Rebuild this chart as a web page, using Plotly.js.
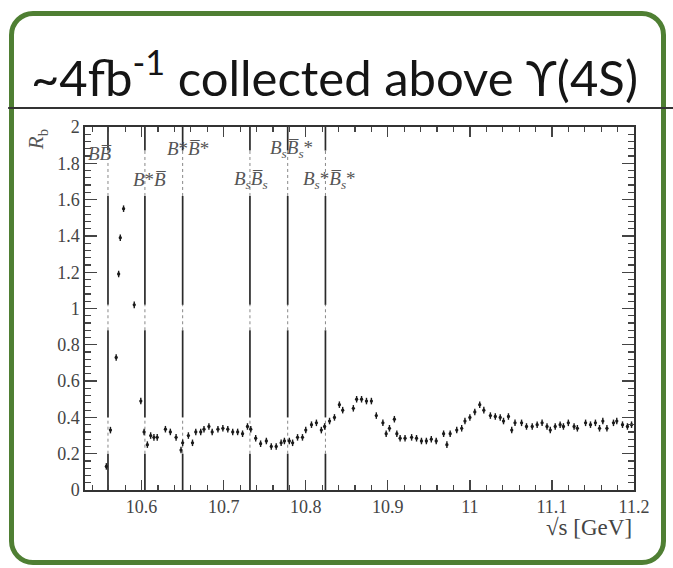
<!DOCTYPE html>
<html>
<head>
<meta charset="utf-8">
<script src="https://cdn.plot.ly/plotly-3.0.1.min.js"></script>
<style>
html,body{margin:0;padding:0;background:#fff;}
#wrap{position:relative;width:673px;height:568px;overflow:hidden;}
#frame{position:absolute;left:9px;top:11px;width:647px;height:544px;border:5px solid #4f7f33;border-radius:24px;background:#fff;}
#chart{position:absolute;left:0;top:0;width:673px;height:568px;}
</style>
</head>
<body>
<div id="wrap"><div id="frame"></div><div id="chart"></div></div>
<script>
// Energy points (GeV) and Rb values
const energy = [10.557,10.562,10.569,10.572,10.574,10.578,10.591,10.599,
 10.603,10.607,10.611,10.615,10.619,10.629,10.635,10.642,10.648,10.650,10.657,10.662,10.666,10.672,10.676,10.682,10.686,10.693,10.699,10.705,10.711,10.717,10.723,10.729,10.733,10.739,10.745,
 10.752,10.758,10.764,10.770,10.774,10.780,10.784,10.790,10.796,10.800,10.807,10.813,10.819,10.823,10.829,10.835,10.841,10.845,10.858,10.862,10.868,10.874,10.880,10.886,10.894,10.898,10.902,10.908,10.911,10.915,10.921,10.929,10.935,10.941,10.947,10.953,10.959,10.968,10.972,
 10.976,10.984,10.990,10.994,11.000,11.006,11.012,11.017,11.025,11.031,11.037,11.041,11.047,11.051,11.055,11.063,11.069,11.076,11.082,11.088,11.094,11.098,11.104,11.110,11.114,11.120,11.127,11.131,11.141,11.147,11.153,11.158,11.162,11.167,11.175,11.179,11.186,11.192,11.197];
const rb = [0.13,0.33,0.73,1.19,1.39,1.55,1.02,0.49,
 0.32,0.25,0.30,0.29,0.29,0.335,0.32,0.29,0.22,0.26,0.30,0.26,0.32,0.32,0.335,0.35,0.32,0.335,0.34,0.335,0.32,0.32,0.31,0.35,0.335,0.285,0.255,
 0.27,0.24,0.24,0.26,0.27,0.27,0.26,0.29,0.29,0.33,0.36,0.37,0.33,0.35,0.38,0.40,0.47,0.44,0.45,0.50,0.50,0.49,0.49,0.41,0.37,0.31,0.34,0.39,0.31,0.285,0.285,0.29,0.285,0.27,0.27,0.28,0.27,0.31,0.25,
 0.31,0.33,0.34,0.38,0.40,0.43,0.47,0.44,0.41,0.405,0.40,0.38,0.405,0.33,0.37,0.37,0.35,0.35,0.36,0.37,0.35,0.33,0.35,0.36,0.35,0.37,0.35,0.34,0.37,0.36,0.37,0.34,0.38,0.34,0.37,0.38,0.36,0.35,0.36];

// Open-flavour thresholds (GeV) and their labels
const thresholds = [10.559,10.604,10.650,10.732,10.778,10.824];
const thresholdLabels = [
  "<i>B</i><i>B̅</i>",
  "<i>B</i>*<i>B̅</i>",
  "<i>B</i>*<i>B̅</i>*",
  "<i>B<sub>s</sub></i><i>B̅<sub>s</sub></i>",
  "<i>B<sub>s</sub></i><i>B̅<sub>s</sub></i>*",
  "<i>B<sub>s</sub></i>*<i>B̅<sub>s</sub></i>*"
];
const labelX = [10.549,10.609,10.656,10.733,10.783,10.829];
const labelY = [1.855,1.71,1.88,1.71,1.88,1.71];

const traces = [];
// threshold lines: solid pieces plus dotted pieces
const solidSegs = [[0,0.2],[0.4,0.88],[1.02,1.62],[1.87,2]];
const dotSegs = [[0.2,0.4],[0.88,1.02],[1.62,1.87]];
function segTrace(segs, dash, w, col){
  const xs=[], ys=[];
  thresholds.forEach(t=>{ segs.forEach(s=>{ xs.push(t,t,null); ys.push(s[0],s[1],null); }); });
  return {x:xs,y:ys,mode:'lines',type:'scatter',hoverinfo:'skip',
    line:{color:col,width:w,dash:dash},showlegend:false};
}
traces.push(segTrace(solidSegs,'solid',1.7,'#2a2a2a'));
traces.push(segTrace(dotSegs,'dot',1,'#888'));

traces.push({
  x: energy, y: rb, mode:'markers', type:'scatter', showlegend:false,
  marker:{size:3.3,color:'#1a1a1a'},
  error_y:{type:'constant',value:0.018,thickness:1.4,width:0,color:'#1a1a1a'}
});

const annotations = thresholdLabels.map((t,i)=>({
  x: labelX[i], y: labelY[i], xref:'x', yref:'y', text:t, showarrow:false,
  font:{family:'Liberation Serif, serif',size:19,color:'#555'}
}));
annotations.push({
  xref:'paper', yref:'paper', x:-0.088, y:1.0, xanchor:'center', yanchor:'top',
  text:'<i>R</i><sub>b</sub>', textangle:-90, showarrow:false,
  font:{family:'Liberation Serif, serif',size:21,color:'#555'}
});
annotations.push({
  xref:'paper', yref:'paper', x:1.0, y:-0.102, xanchor:'right', yanchor:'middle',
  text:'√s [GeV]', showarrow:false,
  font:{family:'Liberation Serif, serif',size:23,color:'#444'}
});

const layout = {
  width:673, height:568,
  margin:{l:85,r:39,t:127,b:78},
  paper_bgcolor:'rgba(0,0,0,0)', plot_bgcolor:'rgba(0,0,0,0)',
  title:{text:'~4fb<sup>-1</sup> collected above ϒ(4S)', xref:'container', yref:'container',
    x:0.497, y:0.862, xanchor:'center', yanchor:'middle',
    font:{family:'Lato, "Open Sans", sans-serif', size:49, color:'#151515'}},
  xaxis:{range:[10.531,11.2], showgrid:false, zeroline:false,
    tickvals:[10.6,10.7,10.8,10.9,11,11.1,11.2], ticktext:['10.6','10.7','10.8','10.9','11','11.1','11.2'],
    ticks:'inside', ticklen:10, tickwidth:1.3, tickcolor:'#444',
    minor:{dtick:0.02, tick0:10.5, ticks:'inside', ticklen:5, tickwidth:1.2, tickcolor:'#444'},
    showline:true, linecolor:'#333', linewidth:1.6, mirror:'allticks',
    tickfont:{family:'Liberation Serif, serif', size:18, color:'#444'}},
  yaxis:{range:[0,2], showgrid:false, zeroline:false, dtick:0.2, tick0:0,
    ticks:'inside', ticklen:12, tickwidth:1.3, tickcolor:'#444',
    minor:{dtick:0.04, ticks:'inside', ticklen:6, tickwidth:1.2, tickcolor:'#444'},
    showline:true, linecolor:'#333', linewidth:1.6, mirror:'allticks',
    tickfont:{family:'Liberation Serif, serif', size:18, color:'#444'}},
  shapes:[{type:'line', xref:'paper', yref:'paper', x0:-0.14, x1:1.08, y0:1.0 + 19/363, y1:1.0 + 19/363,
    line:{color:'#333', width:2}}],
  annotations: annotations
};
Plotly.newPlot('chart', traces, layout, {staticPlot:true});
</script>
</body>
</html>
